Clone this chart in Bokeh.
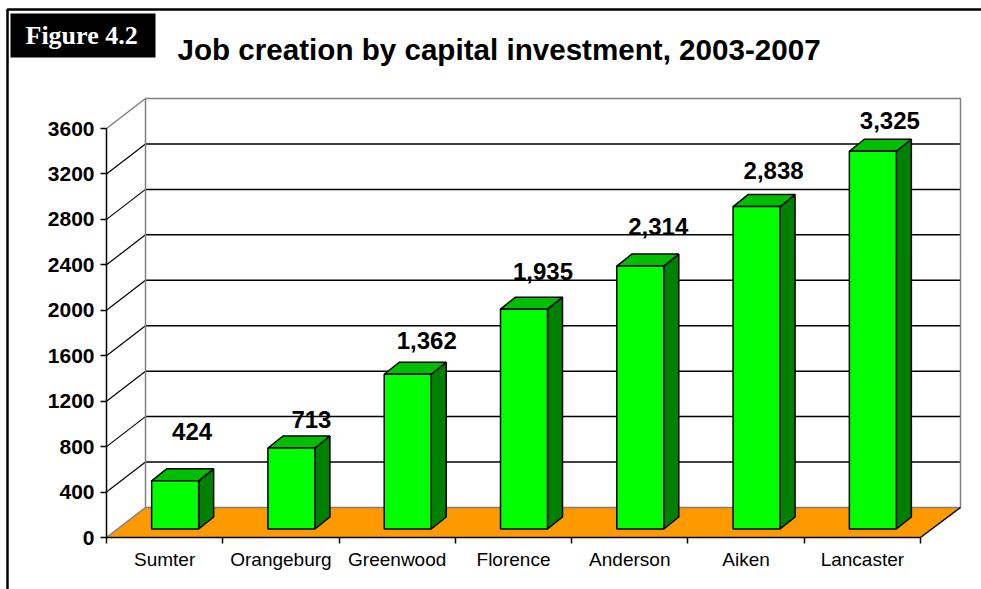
from bokeh.plotting import figure
from bokeh.models import FixedTicker, BoxAnnotation, Label, ColumnDataSource, Range1d
from bokeh.core.properties import value
from bokeh.embed import file_html
from bokeh.resources import INLINE

categories = ["Sumter", "Orangeburg", "Greenwood", "Florence", "Anderson", "Aiken", "Lancaster"]
jobs = [424, 713, 1362, 1935, 2314, 2838, 3325]
job_labels = ["424", "713", "1,362", "1,935", "2,314", "2,838", "3,325"]
y_ticks = [0, 400, 800, 1200, 1600, 2000, 2400, 2800, 3200, 3600]
title_text = "Job creation by capital investment, 2003-2007"
badge_text = "Figure 4.2"

# layout (pixels)
W, H = 981, 589
L, T, R, B = 106, 98, 960, 537
AXIS_R = 920
PX_X = (AXIS_R - L) / len(categories)     # px per category
PX_Y = (B - 128) / y_ticks[-1]            # px per job
def ux(px): return px / PX_X
def uy(px): return px / PX_Y
xmax, ymax = ux(R - L), uy(B - T)
DX, DY = ux(39), uy(30)          # depth of the 3D box
OFFX, OFFY = ux(10.5), uy(8.5)   # bar inset from front of floor
SX, SY = ux(15), uy(12)          # bar depth
BW = ux(47)

# The frame fills the page; the axes are pinned inside it with fixed_location.
p = figure(width=W, height=H, output_backend="svg", toolbar_location=None,
           x_range=Range1d(ux(-L), ux(W - L)), y_range=Range1d(uy(B - H), uy(B)),
           min_border=0, min_border_left=0, min_border_top=0, min_border_right=0, min_border_bottom=0,
           outline_line_color=None, background_fill_color="white", border_fill_color="white")
p.grid.visible = False

GREY = "#808080"
inner = y_ticks[1:-1]
p.segment(x0=[DX] * len(inner), y0=[v + DY for v in inner], x1=[xmax] * len(inner), y1=[v + DY for v in inner],
          line_color="black", line_width=1.5)
p.segment(x0=[0] * len(inner), y0=inner, x1=[DX] * len(inner), y1=[v + DY for v in inner],
          line_color="black", line_width=1.2)
p.patch([0, DX, xmax, ux(AXIS_R - L)], [0, DY, DY, 0], fill_color="#FF9900", line_color=None)
top = y_ticks[-1]
p.line([0, DX, xmax, xmax, DX, DX], [top, top + DY, top + DY, DY, DY, top + DY], line_color=GREY, line_width=1.5)
p.line([0, DX], [0, DY], line_color=GREY, line_width=1.5)
p.line([ux(AXIS_R - L), xmax], [0, DY], line_color="black", line_width=1.5)

front_x, front_y, side_x, side_y, top_x, top_y = [], [], [], [], [], []
for i, v in enumerate(jobs):
    x0 = i + 0.5 - BW / 2 + OFFX
    x1 = x0 + BW
    b, t = OFFY, OFFY + v
    front_x.append([x0, x1, x1, x0]); front_y.append([b, b, t, t])
    side_x.append([x1, x1 + SX, x1 + SX, x1]); side_y.append([b, b + SY, t + SY, t])
    top_x.append([x0, x0 + SX, x1 + SX, x1]); top_y.append([t, t + SY, t + SY, t])
p.patches(side_x, side_y, fill_color="#008000", line_color="black", line_width=1.5)
p.patches(top_x, top_y, fill_color="#00BF00", line_color="black", line_width=1.5)
p.patches(front_x, front_y, fill_color="#00FF00", line_color="black", line_width=1.5)

nudge_x = [17, 20, 19, 19, 18, 17, 17]
nudge_y = [49, 28, 34, 38, 40, 36, 31]
src = ColumnDataSource(dict(
    x=[i + 0.5 + OFFX for i in range(len(jobs))],
    y=[OFFY + v for v in jobs],
    text=job_labels,
    dx=nudge_x,
    dy=[-n for n in nudge_y],
))
p.text("x", "y", text="text", source=src, x_offset="dx", y_offset="dy",
       text_font=value("Liberation Sans"), text_font_style="bold", text_font_size="24px",
       text_align="center", text_baseline="middle", text_color="black")

ax = p.yaxis[0]
ax.fixed_location = 0
ax.ticker = FixedTicker(ticks=y_ticks)
ax.bounds = (0, top)
ax.major_tick_out = 6; ax.major_tick_in = 0; ax.minor_tick_out = 0; ax.minor_tick_in = 0
ax.axis_line_width = 1.5; ax.major_tick_line_width = 1.5
ax.major_label_text_font = "Liberation Sans"; ax.major_label_text_font_style = "bold"
ax.major_label_text_font_size = "21px"; ax.major_label_text_color = "black"
ax.major_label_standoff = 6

xa = p.xaxis[0]
xa.fixed_location = 0
xa.ticker = FixedTicker(ticks=[i + 0.5 for i in range(len(categories))],
                        minor_ticks=list(range(len(categories) + 1)))
xa.major_label_overrides = {i + 0.5: c for i, c in enumerate(categories)}
xa.bounds = (0, len(categories))
xa.major_tick_out = 0; xa.major_tick_in = 0; xa.minor_tick_out = 6; xa.minor_tick_in = 0
xa.axis_line_width = 1.5; xa.minor_tick_line_color = "black"; xa.minor_tick_line_width = 1.5
xa.major_label_text_font = "Liberation Sans"; xa.major_label_text_font_size = "19px"
xa.major_label_text_color = "black"; xa.major_label_standoff = 5

# "screen" units are measured from the frame's lower-left corner (here: the page's)
def sy(py): return H - py
def box(l, r, t, b, **kw):
    return BoxAnnotation(left=l, right=r, top=sy(t), bottom=sy(b), left_units="screen", right_units="screen",
                         top_units="screen", bottom_units="screen", **kw)
p.add_layout(box(7, W + 4, 9, H + 4, fill_alpha=0, line_color="black", line_alpha=1, line_width=2.5))
p.add_layout(box(10, 155, 13, 57, fill_color="black", fill_alpha=1, line_color=None))
p.add_layout(Label(x=25, y=sy(35), x_units="screen", y_units="screen", text=badge_text, text_color="white",
                   text_font="Liberation Serif", text_font_style="bold", text_font_size="26px", text_baseline="middle"))
p.add_layout(Label(x=177, y=sy(49), x_units="screen", y_units="screen", text=title_text, text_color="black",
                   text_font="Liberation Sans", text_font_style="bold", text_font_size="29.6px", text_baseline="middle"))

open("out.html", "w").write(file_html(p, INLINE))
